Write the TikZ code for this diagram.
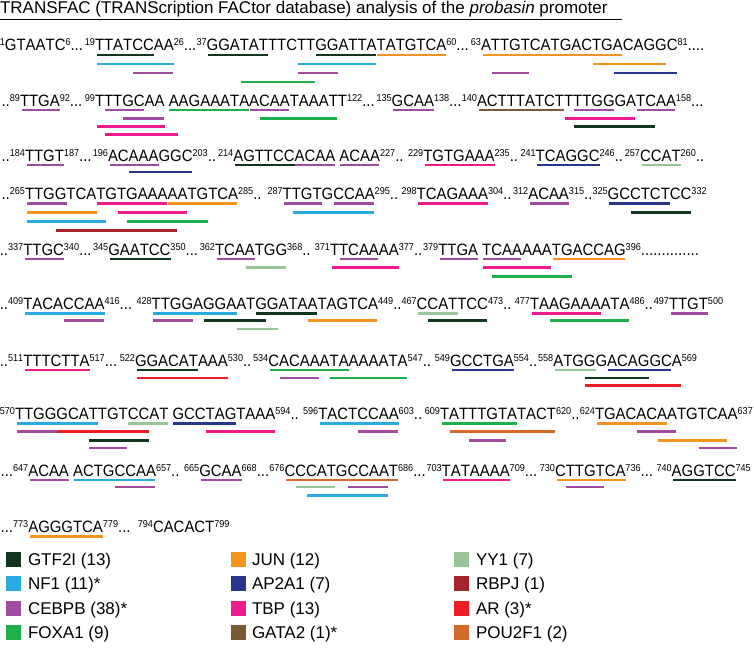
\documentclass[tikz,border=0pt]{standalone}
\usepackage{fontspec}
\setmainfont{Liberation Sans}
\newfontfamily\seqfont[FakeStretch=0.91, Kerning=Off]{Liberation Sans}
\usetikzlibrary{calc}
\definecolor{cGTF}{HTML}{12351F}
\definecolor{cNF}{HTML}{29ABE2}
\definecolor{cCEB}{HTML}{A04CA0}
\definecolor{cFOX}{HTML}{1EB14B}
\definecolor{cJUN}{HTML}{F7941D}
\definecolor{cAP}{HTML}{27358F}
\definecolor{cTBP}{HTML}{EC1B8C}
\definecolor{cGATA}{HTML}{7A5A35}
\definecolor{cYY}{HTML}{98C598}
\definecolor{cRBP}{HTML}{A3242A}
\definecolor{cAR}{HTML}{EE1C25}
\definecolor{cPOU}{HTML}{D4692A}
\newcommand\sq{\fontsize{16.4}{18}\seqfont}
\newcommand\supn[1]{\raisebox{4.6pt}{\fontsize{10}{11}\seqfont #1}}
% segment: name, x, y, text before, letters, text after
\newcommand\seg[6]{%
  \node[seq] (#1) at (#2,#3) {#5};
  \node[seq, anchor=base east] (#1p) at (#1.base west) {#4};
  \node[seq] (#1q) at (#1.base east) {#6};}
% bar: segment, letters before, letters covered, y, style
\newcommand\fb[5]{%
  \node[seq] (pp) at (#1.base west) {\phantom{#2}};
  \node[seq] (cc) at (pp.base east) {\phantom{#3}};
  \path ([xshift=0.7pt]cc.base west) coordinate (p1) ([xshift=-0.7pt]cc.base east) coordinate (p2);
  \draw[bar,#5] (p1 |- 0,#4) -- (p2 |- 0,#4);}
\tikzset{
  seq/.style={inner sep=0pt, outer sep=0pt, anchor=base west, font=\sq},
  bar/.style={line width=2.8pt},
  fGTF/.style={draw=cGTF}, fNF/.style={draw=cNF}, fCEB/.style={draw=cCEB},
  fFOX/.style={draw=cFOX}, fJUN/.style={draw=cJUN}, fAP/.style={draw=cAP},
  fTBP/.style={draw=cTBP}, fGATA/.style={draw=cGATA}, fYY/.style={draw=cYY},
  fRBP/.style={draw=cRBP}, fAR/.style={draw=cAR}, fPOU/.style={draw=cPOU},
  lsq/.style={minimum size=15pt, inner sep=0pt, outer sep=0pt, draw=none},
  ltx/.style={inner sep=0pt, outer sep=0pt, anchor=base west, font=\fontsize{17}{20}\selectfont}
}
\begin{document}
\begin{tikzpicture}[x=1pt,y=-1pt]
\fill[white] (0,0) rectangle (754,648);
\useasboundingbox (0,0) rectangle (754,648);
% title
\node[inner sep=0pt, outer sep=0pt, anchor=base west, font=\fontsize{17}{20}\selectfont] (title) at (0,13.3)
  {TRANSFAC (TRANScription FACtor database) analysis of the \textit{probasin} promoter};
\coordinate (ulA) at (0,19.5);
\coordinate (ulB) at (622,19.5);
\draw[line width=1.3pt] (ulA) -- (ulB);
% ---------- line 1
\seg{a1}{5}{50.5}{\supn{1}}{GTAATC}{\supn{6}...}
\seg{a3}{95}{50.5}{\supn{19}}{TTATCCAA}{\supn{26}...}
\seg{a5}{206.7}{50.5}{\supn{37}}{GGATATTTCTTGGATTATATGTCA}{\supn{60}...}
\seg{a7}{481}{50.5}{\supn{63}}{ATTGTCATGACTGACAGGC}{\supn{81}....}
\fb{a3}{}{TTATCC}{55}{fGTF}
\fb{a3}{}{TTATCCAA}{64}{fNF}
\fb{a3}{TTAT}{CCAA}{73}{fCEB}
\fb{a5}{}{GGATAT}{55}{fGTF}
\fb{a5}{GGATATTTCTT}{GGATTA}{55}{fGTF}
\fb{a5}{GGATATTTCTTGGATTA}{TATGTCA}{55}{fJUN}
\fb{a5}{GGATATTTC}{TTGGATTA}{64}{fNF}
\fb{a5}{GGATATTTC}{TTGG}{73}{fCEB}
\fb{a5}{GGA}{TATTTCTT}{82}{fFOX}
\fb{a7}{}{ATTGTCA}{55}{fJUN}
\fb{a7}{ATTGTCA}{TGACTGA}{55}{fJUN}
\fb{a7}{ATTGTCATGAC}{TGACAGG}{64}{fJUN}
\fb{a7}{A}{TTGT}{73}{fCEB}
\fb{a7}{ATTGTCATGACTG}{ACAGGC}{73}{fAP}
% ---------- line 2
\seg{b1}{20}{106}{..\supn{89}}{TTGA}{\supn{92}...}
\seg{b3}{95}{106}{\supn{99}}{TTTGCAA AAGAAATAACAATAAATT}{\supn{122}...}
\seg{b5}{391.7}{106}{\supn{135}}{GCAA}{\supn{138}...}
\seg{b7}{477}{106}{\supn{140}}{ACTTTATCTTTTGGGATCAA}{\supn{158}...}
\fb{b1}{}{TTGA}{110}{fCEB}
\fb{b3}{T}{TTGC}{110}{fCEB}
\fb{b3}{TTTGCAA\ }{AAGAAATA}{110}{fFOX}
\fb{b3}{TTTGCAA\ AAGAAATA}{ACAA}{110}{fCEB}
\fb{b3}{TTT}{GCAA}{118.3}{fCEB}
\fb{b3}{TTTGCAA\ AAGAAATAA}{CAATAAAT}{118.3}{fFOX}
\fb{b3}{}{TTTGCAA}{126.7}{fTBP}
\fb{b3}{T}{TTGCAA\ A}{134.5}{fTBP}
\fb{b5}{}{GCAA}{110}{fCEB}
\fb{b7}{}{ACTTTATCT}{110}{fGATA}
\fb{b7}{ACTTTATCTT}{TTGG}{110}{fCEB}
\fb{b7}{ACTTTATCTTTTGGGA}{TCAA}{110}{fCEB}
\fb{b7}{ACTTTATCT}{TTTGGGA}{118.3}{fTBP}
\fb{b7}{ACTTTATCTT}{TTGGGATC}{126.7}{fGTF}
% ---------- line 3
\seg{c1}{25}{161}{..\supn{184}}{TTGT}{\supn{187}...}
\seg{c3}{108}{161}{\supn{196}}{ACAAAGGC}{\supn{203}..}
\seg{c5}{233.3}{161}{\supn{214}}{AGTTCCACAA ACAA}{\supn{227}..}
\seg{c7}{423.3}{161}{\supn{229}}{TGTGAAA}{\supn{235}..}
\seg{c9}{535.7}{161}{\supn{241}}{TCAGGC}{\supn{246}..}
\seg{c11}{640}{161}{\supn{257}}{CCAT}{\supn{260}..}
\fb{c1}{}{TTGT}{165}{fCEB}
\fb{c3}{}{ACAAA}{165}{fCEB}
\fb{c3}{AC}{AAAGGC}{172}{fAP}
\fb{c5}{}{AGTTCC}{165}{fGTF}
\fb{c5}{AGTTCC}{ACAA}{165}{fCEB}
\fb{c5}{AGTTCCACAA\ }{ACAA}{165}{fCEB}
\fb{c7}{}{TGTGAAA}{165}{fTBP}
\fb{c9}{}{TCAGGC}{165}{fAP}
\fb{c11}{}{CCAT}{165}{fYY}
% ---------- line 4
\seg{d1}{25}{199}{..\supn{265}}{TTGGTCATGTGAAAAATGTCA}{\supn{285}..}
\seg{d3}{282.7}{199}{\supn{287}}{TTGTGCCAA}{\supn{295}..}
\seg{d5}{416.7}{199}{\supn{298}}{TCAGAAA}{\supn{304}..}
\seg{d7}{528.3}{199}{\supn{312}}{ACAA}{\supn{315}..}
\seg{d9}{607.7}{199}{\supn{325}}{GCCTCTCC}{\supn{332}}
\fb{d1}{}{TTGG}{203.3}{fCEB}
\fb{d1}{TTGGTCA}{TGTGAAA}{203.3}{fTBP}
\fb{d1}{TTGGTCATGTGAAA}{AATGTCA}{203.3}{fJUN}
\fb{d1}{}{TTGGTCA}{212.5}{fJUN}
\fb{d1}{TTGGTCATG}{TGAAAAA}{212.5}{fTBP}
\fb{d1}{}{TTGGTCAT}{221.3}{fNF}
\fb{d1}{TTGGTCATGT}{GAAAAATG}{221.3}{fFOX}
\fb{d1}{TTG}{GTCATGTGAAAA}{230.5}{fRBP}
\fb{d3}{}{TTGT}{203.3}{fCEB}
\fb{d3}{TTGTG}{CCAA}{203.3}{fCEB}
\fb{d3}{T}{TGTGCCAA}{212.5}{fNF}
\fb{d5}{}{TCAGAAA}{203.3}{fTBP}
\fb{d7}{}{ACAA}{203.3}{fCEB}
\fb{d9}{}{GCCTCT}{203.3}{fAP}
\fb{d9}{GC}{CTCTCC}{212.5}{fGTF}
% ---------- line 5
\seg{e1}{23.3}{255}{..\supn{337}}{TTGC}{\supn{340}...}
\seg{e3}{108.3}{255}{\supn{345}}{GAATCC}{\supn{350}...}
\seg{e5}{215}{255}{\supn{362}}{TCAATGG}{\supn{368}..}
\seg{e7}{330}{255}{\supn{371}}{TTCAAAA}{\supn{377}..}
\seg{e9}{438.3}{255}{\supn{379}}{TTGA TCAAAAATGACCAG}{\supn{396}..............}
\fb{e1}{}{TTGC}{259}{fCEB}
\fb{e3}{}{GAATCC}{259}{fGTF}
\fb{e5}{}{TCAA}{259}{fCEB}
\fb{e5}{TCA}{ATGG}{267.5}{fYY}
\fb{e7}{T}{TCAA}{259}{fCEB}
\fb{e7}{}{TTCAAAA}{267.5}{fTBP}
\fb{e9}{}{TTGA}{259}{fCEB}
\fb{e9}{TTGA\ }{TCAA}{259}{fCEB}
\fb{e9}{TTGA\ TCAAAAA}{TGACCAG}{259}{fJUN}
\fb{e9}{TTGA\ }{TCAAAAA}{267.5}{fTBP}
\fb{e9}{TTGA\ T}{CAAAAATG}{276.5}{fFOX}
% ---------- line 6
\seg{f1}{23.3}{309}{..\supn{409}}{TACACCAA}{\supn{416}...}
\seg{f3}{151.7}{309}{\supn{428}}{TTGGAGGAATGGATAATAGTCA}{\supn{449}..}
\seg{f5}{416.7}{309}{\supn{467}}{CCATTCC}{\supn{473}..}
\seg{f7}{530}{309}{\supn{477}}{TAAGAAAATA}{\supn{486}..}
\seg{f9}{669}{309}{\supn{497}}{TTGT}{\supn{500}}
\fb{f1}{}{TACACCAA}{313.3}{fNF}
\fb{f1}{TACA}{CCAA}{320.7}{fCEB}
\fb{f3}{}{TTGGAGGA}{313.3}{fNF}
\fb{f3}{TTGGAGGAAT}{GGATAA}{313.3}{fGTF}
\fb{f3}{}{TTGG}{320.7}{fCEB}
\fb{f3}{TTGGA}{GGAATG}{320.7}{fGTF}
\fb{f3}{TTGGAGGAATGGATA}{ATAGTCA}{320.7}{fJUN}
\fb{f3}{TTGGAGGA}{ATGG}{329}{fYY}
\fb{f5}{}{CCAT}{313.3}{fYY}
\fb{f5}{C}{CATTCC}{320.7}{fGTF}
\fb{f7}{}{TAAGAAA}{313.3}{fTBP}
\fb{f7}{TA}{AGAAAATA}{320.7}{fFOX}
\fb{f9}{}{TTGT}{313.3}{fCEB}
% ---------- line 7
\seg{g1}{23.3}{366}{..\supn{511}}{TTTCTTA}{\supn{517}...}
\seg{g3}{135}{366}{\supn{522}}{GGACATAAA}{\supn{530}..}
\seg{g5}{268.3}{366}{\supn{534}}{CACAAATAAAAATA}{\supn{547}..}
\seg{g7}{450}{366}{\supn{549}}{GCCTGA}{\supn{554}..}
\seg{g9}{553.3}{366}{\supn{558}}{ATGGGACAGGCA}{\supn{569}}
\fb{g1}{}{TTTCTTA}{370}{fTBP}
\fb{g3}{}{GGACAT}{370}{fGTF}
\fb{g3}{}{GGACATAAA}{378}{fAR}
\fb{g5}{}{CACAAATA}{370}{fFOX}
\fb{g5}{C}{ACAA}{378}{fCEB}
\fb{g5}{CACAAA}{TAAAAATA}{378}{fFOX}
\fb{g7}{}{GCCTGA}{370}{fAP}
\fb{g9}{}{ATGG}{370}{fYY}
\fb{g9}{ATGGG}{ACAGGC}{370}{fAP}
\fb{g9}{ATG}{GGACAG}{378}{fGTF}
\fb{g9}{ATG}{GGACAGGCA}{385.7}{fAR}
% ---------- line 8
\seg{h1}{15}{419.5}{\supn{570}}{TTGGGCATTGTCCAT GCCTAGTAAA}{\supn{594}..}
\seg{h3}{318.3}{419.5}{\supn{596}}{TACTCCAA}{\supn{603}..}
\seg{h5}{440}{419.5}{\supn{609}}{TATTTGTATACT}{\supn{620}..}
\seg{h7}{595}{419.5}{\supn{624}}{TGACACAATGTCAA}{\supn{637}}
\fb{h1}{}{TTGGGCAT}{423.5}{fNF}
\fb{h1}{TTGGGCATTGT}{CCAT}{423.5}{fYY}
\fb{h1}{TTGGGCATTGTCCAT\ }{GCCTAG}{423.5}{fAP}
\fb{h1}{}{TTGG}{431.7}{fCEB}
\fb{h1}{TTGG}{GCATTGTCC}{431.7}{fAR}
\fb{h1}{TTGGGCATTGTCCAT\ GCC}{TAGTAAA}{431.7}{fTBP}
\fb{h1}{TTGGGCA}{TTGTCC}{440.5}{fGTF}
\fb{h1}{TTGGGCA}{TTGT}{448}{fCEB}
\fb{h3}{}{TACTCCAA}{423.5}{fNF}
\fb{h3}{TACT}{CCAA}{431.7}{fCEB}
\fb{h5}{}{TATTTGTA}{423.5}{fFOX}
\fb{h5}{T}{ATTTGTATACT}{431.7}{fPOU}
\fb{h5}{TAT}{TTGT}{440.5}{fCEB}
\fb{h7}{}{TGACACA}{423.5}{fJUN}
\fb{h7}{TGAC}{ACAA}{431.7}{fCEB}
\fb{h7}{TGACAC}{AATGTCA}{440.5}{fJUN}
\fb{h7}{TGACACAATG}{TCAA}{448}{fCEB}
% ---------- line 9
\seg{i1}{28.3}{476}{...\supn{647}}{ACAA ACTGCCAA}{\supn{657}..}
\seg{i3}{199.3}{476}{\supn{665}}{GCAA}{\supn{668}...}
\seg{i5}{284.5}{476}{\supn{676}}{CCCATGCCAAT}{\supn{686}...}
\seg{i7}{441.7}{476}{\supn{703}}{TATAAAA}{\supn{709}...}
\seg{i9}{555}{476}{\supn{730}}{CTTGTCA}{\supn{736}...}
\seg{i11}{671.7}{476}{\supn{740}}{AGGTCC}{\supn{745}}
\fb{i1}{}{ACAA}{480}{fCEB}
\fb{i1}{ACAA\ }{ACTGCCAA}{480}{fNF}
\fb{i1}{ACAA\ ACTG}{CCAA}{487}{fCEB}
\fb{i3}{}{GCAA}{480}{fCEB}
\fb{i5}{}{CCCATGCCAAT}{480}{fPOU}
\fb{i5}{C}{CCAT}{487}{fYY}
\fb{i5}{CCCATG}{CCAA}{487}{fCEB}
\fb{i5}{CC}{CATGCCAA}{495.3}{fNF}
\fb{i7}{}{TATAAAA}{480}{fTBP}
\fb{i9}{}{CTTGTCA}{480}{fJUN}
\fb{i9}{C}{TTGT}{487}{fCEB}
\fb{i11}{}{AGGTCC}{480}{fGTF}
% ---------- line 10
\seg{j1}{28.3}{532}{...\supn{773}}{AGGGTCA}{\supn{779}...}
\seg{j3}{153}{532}{\supn{794}}{CACACT}{\supn{799}}
\fb{j1}{}{AGGGTCA}{536.5}{fJUN}
% ---------- legend
\node[lsq, fill=cGTF] (k1) at (13,559) {};
\node[lsq, fill=cNF] (k2) at (13,583.5) {};
\node[lsq, fill=cCEB] (k3) at (13,608) {};
\node[lsq, fill=cFOX] (k4) at (13,632.5) {};
\node[lsq, fill=cJUN] (k5) at (238,559) {};
\node[lsq, fill=cAP] (k6) at (238,583.5) {};
\node[lsq, fill=cTBP] (k7) at (238,608) {};
\node[lsq, fill=cGATA] (k8) at (238,632.5) {};
\node[lsq, fill=cYY] (k9) at (461,559) {};
\node[lsq, fill=cRBP] (k10) at (461,583.5) {};
\node[lsq, fill=cAR] (k11) at (461,608) {};
\node[lsq, fill=cPOU] (k12) at (461,632.5) {};
\node[ltx] (l1) at (28,565.1) {GTF2I (13)};
\node[ltx] (l2) at (28,589.6) {NF1 (11)*};
\node[ltx] (l3) at (28,614.1) {CEBPB (38)*};
\node[ltx] (l4) at (28,638.6) {FOXA1 (9)};
\node[ltx] (l5) at (252,565.1) {JUN (12)};
\node[ltx] (l6) at (252,589.6) {AP2A1 (7)};
\node[ltx] (l7) at (252,614.1) {TBP (13)};
\node[ltx] (l8) at (252,638.6) {GATA2 (1)*};
\node[ltx] (l9) at (476,565.1) {YY1 (7)};
\node[ltx] (l10) at (476,589.6) {RBPJ (1)};
\node[ltx] (l11) at (476,614.1) {AR (3)*};
\node[ltx] (l12) at (476,638.6) {POU2F1 (2)};
\end{tikzpicture}
\end{document}
